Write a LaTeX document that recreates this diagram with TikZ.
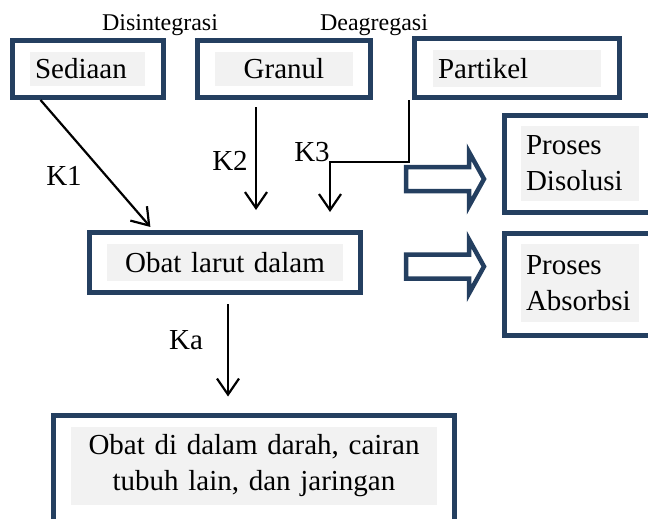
\documentclass[tikz,border=0pt]{standalone}
\usepackage{fontspec}
\setmainfont{Liberation Serif}
\usetikzlibrary{
    arrows.meta,
    calc,
    positioning
}
\definecolor{boxblue}{HTML}{243F60}
\definecolor{hlgray}{HTML}{F2F2F2}
\tikzset{
    box/.style={draw=boxblue, line width=5pt, rectangle},
    hl/.style={fill=hlgray, inner xsep=5pt, inner ysep=0pt},
    conn/.style={line width=2.2pt, -{Straight Barb[length=16pt, width=22pt]}},
    small/.style={font=\fontsize{24}{28}\selectfont, anchor=base},
    klabel/.style={anchor=base},
    fatarrow/.pic={
        \draw[draw=boxblue, line width=4.5pt, fill=white, miter limit=10]
        (0,-12) -- (63,-12) -- (63,-27) -- (78,0) -- (63,27) -- (63,12) -- (0,12) -- cycle;
    }
}

\begin{document}
\begin{tikzpicture}[x=1pt, y=-1pt, font=\fontsize{29}{36}\selectfont]
                        \useasboundingbox (0,0) rectangle (648,519);
                        \node[box, minimum width=151pt, minimum height=57pt] (sed) at (88,69) {};
                        \node[hl, minimum height=34pt, text width=105pt, align=left] (sedT) at (87.5,69) {Sediaan};
                        \node[box, minimum width=173pt, minimum height=57pt] (gran) at (284,69) {};
                        \node[hl, minimum height=34pt, text width=128pt, align=center] (granT) at (284,69) {Granul};
                        \node[box, minimum width=205pt, minimum height=59pt] (part) at (517,68) {};
                        \node[hl, minimum height=37pt, text width=158pt, align=left] (partT) at (517,68.5) {Partikel};
                        \node[small] (disint) at (160,31) {Disintegrasi};
                        \node[small] (deagr) at (374,31) {Deagregasi};
                        \node[box, minimum width=271pt, minimum height=60pt] (obat) at (225,262.5) {};
                        \node[hl, minimum height=37pt, text width=226pt, align=center] (obatT) at (225,262.5) {Obat larut dalam};
                        \node[box, minimum width=401pt, minimum height=110pt] (darah) at (254,470) {};
                        \node[hl, minimum height=78pt, text width=356pt, align=center] (darahT) at (254,466) {Obat di dalam darah, cairan\\tubuh lain, dan jaringan};
                        \node[box, minimum width=156pt, minimum height=97pt] (diso) at (582,164) {};
                        \node[hl, minimum height=75pt, text width=108pt, align=left] (disoT) at (580,163.5) {Proses\\Disolusi};
                        \node[box, minimum width=156pt, minimum height=102pt] (abso) at (582,284.5) {};
                        \node[hl, minimum height=78pt, text width=108pt, align=left] (absoT) at (580,283) {Proses\\Absorbsi};
                        \pic at (406,179) {fatarrow};
                        \pic at (406,266.5) {fatarrow};
                        \node[klabel] (k1) at (64,185) {K1};
                        \node[klabel] (k2) at (230,170) {K2};
                        \node[klabel] (k3) at (312,161) {K3};
                        \node[klabel] (ka) at (186,349) {Ka};
                        \draw[conn, shorten >=4pt] ([xshift=30.5pt]sed.south west) -- ([xshift=66pt]obat.north west);
                        \draw[conn, shorten <=7pt, shorten >=20pt] ([xshift=-28pt]gran.south) -- ([xshift=-28pt]gran.south |- obat.north);
                        \draw[conn, shorten >=18pt] ([xshift=-3pt]part.south west) -- ++(0,62) -| ([xshift=105pt]obat.north);
                        \draw[conn, shorten <=9pt, shorten >=16pt] ([xshift=3pt]obat.south) -- ([xshift=3pt]obat.south |- darah.north);
                    \end{tikzpicture}
\end{document}
